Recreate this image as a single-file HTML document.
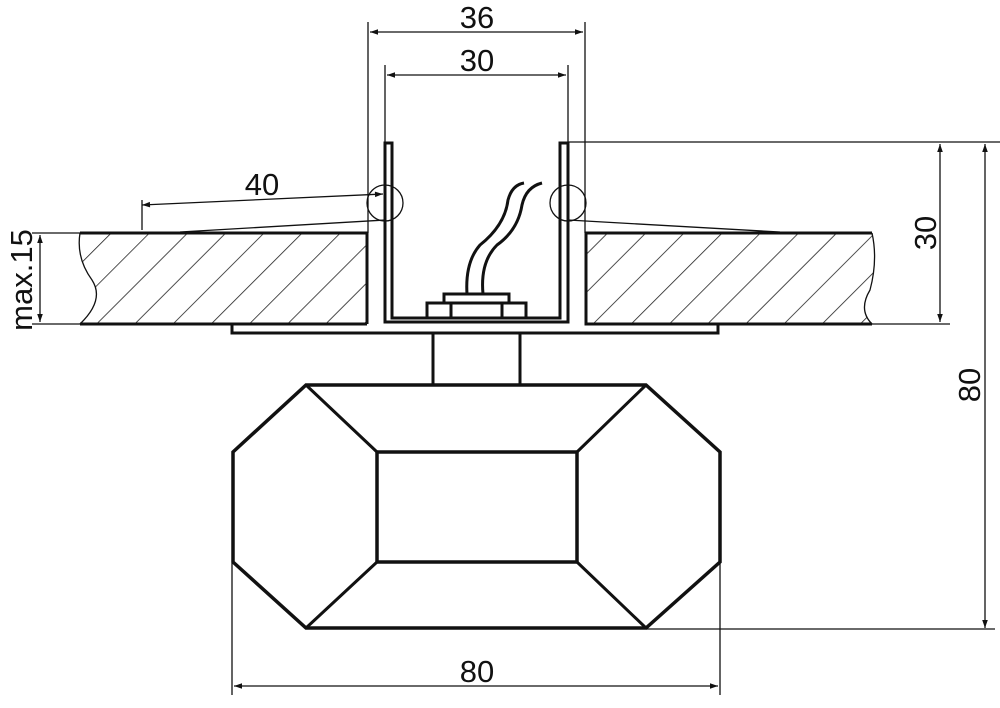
<!DOCTYPE html>
<html><head><style>html,body{margin:0;padding:0;background:#fff}</style></head><body>
<svg width="1000" height="703" viewBox="0 0 1000 703" xmlns="http://www.w3.org/2000/svg" font-family="Liberation Sans, sans-serif">
<defs>
<pattern id="h" patternUnits="userSpaceOnUse" width="27" height="27" patternTransform="rotate(45)">
<line x1="0" y1="0" x2="0" y2="27" stroke="#222" stroke-width="1.6"/>
</pattern>
<marker id="a" viewBox="0 0 10 10" refX="10" refY="5" markerWidth="14" markerHeight="8" orient="auto-start-reverse" markerUnits="userSpaceOnUse"><path d="M0,1.5 L10,5 L0,8.5 z" fill="#111"/></marker>
</defs>
<g stroke="#111" fill="none">
<path d="M80,233 L367,233 L367,324 L80,324 Q105,300 92,280 Q76,258 80,233 Z" fill="url(#h)" stroke="none"/>
<path d="M586,233 L872,233 Q878,260 870,290 Q858,310 872,324 L586,324 Z" fill="url(#h)" stroke="none"/>
<path d="M80,233 L367,233 L367,324 M80,324 L367,324" stroke-width="3"/>
<path d="M80,233 Q76,258 92,280 Q105,300 80,324" stroke-width="1.3"/>
<path d="M872,233 L586,233 L586,324 L872,324" stroke-width="3"/>
<path d="M872,233 Q878,260 870,290 Q858,310 872,324" stroke-width="1.3"/>
<path d="M385,322 L385,143 L392,143 L392,318 L560,318 L560,143 L568,143 L568,322 Z" stroke-width="3" fill="#fff"/>
<circle cx="385" cy="203" r="18" stroke-width="1.3"/>
<circle cx="568" cy="203" r="18" stroke-width="1.3"/>
<path d="M427,318 L427,303 L444,303 L444,294 L509,294 L509,303 L526,303 L526,318 M451,303 L451,318 M502,303 L502,318 M444,303 L509,303" stroke-width="3"/>
<path d="M467,294 Q465,262 480,245 Q505,225 508,200 Q512,185 524,183" stroke-width="3"/>
<path d="M483,294 Q480,262 497,245 Q518,230 522,205 Q526,187 542,183" stroke-width="3"/>
<path d="M232,324 L232,333 L718,333 L718,324" stroke-width="3"/>
<path d="M433,333 L433,385 M520,333 L520,385" stroke-width="3"/>
<path d="M306,385 L646,385 L720,452 L720,562 L646,628 L306,628 L233,562 L233,452 Z" stroke-width="3.5"/>
<rect x="377" y="452" width="200" height="110" stroke-width="3.5"/>
<path d="M306,385 L377,452 M646,385 L577,452 M646,628 L577,562 M306,628 L377,562" stroke-width="3"/>
<g stroke-width="1.3">
<line x1="368" y1="22" x2="368" y2="233"/>
<line x1="585" y1="22" x2="585" y2="233"/>
<line x1="385" y1="65" x2="385" y2="143"/>
<line x1="568" y1="65" x2="568" y2="143"/>
<line x1="370" y1="32" x2="583" y2="32" marker-start="url(#a)" marker-end="url(#a)"/>
<line x1="387" y1="75" x2="566" y2="75" marker-start="url(#a)" marker-end="url(#a)"/>
<line x1="568" y1="142" x2="1000" y2="142"/>
<line x1="872" y1="324" x2="950" y2="324"/>
<line x1="940" y1="144" x2="940" y2="322" marker-start="url(#a)" marker-end="url(#a)"/>
<line x1="985" y1="144" x2="985" y2="628" marker-start="url(#a)" marker-end="url(#a)"/>
<line x1="646" y1="629" x2="995" y2="629"/>
<line x1="232" y1="563" x2="232" y2="695"/>
<line x1="720" y1="563" x2="720" y2="695"/>
<line x1="234" y1="686" x2="718" y2="686" marker-start="url(#a)" marker-end="url(#a)"/>
<line x1="142" y1="200" x2="142" y2="230"/>
<line x1="142" y1="205" x2="383" y2="194" marker-start="url(#a)" marker-end="url(#a)"/>
<line x1="180" y1="232" x2="385" y2="220"/>
<line x1="568" y1="220" x2="780" y2="232"/>
<line x1="32" y1="233" x2="80" y2="233"/>
<line x1="32" y1="324" x2="80" y2="324"/>
<line x1="40" y1="235" x2="40" y2="322" marker-start="url(#a)" marker-end="url(#a)"/>
</g>
</g>
<g fill="#111" font-size="31">
<text x="477" y="28" text-anchor="middle">36</text>
<text x="477" y="71" text-anchor="middle">30</text>
<text x="262" y="195" text-anchor="middle">40</text>
<text x="477" y="682" text-anchor="middle">80</text>
<text transform="translate(936,233) rotate(-90)" text-anchor="middle">30</text>
<text transform="translate(980,385) rotate(-90)" text-anchor="middle">80</text>
<text transform="translate(32,280) rotate(-90)" text-anchor="middle">max.15</text>
</g>
</svg>
</body></html>
